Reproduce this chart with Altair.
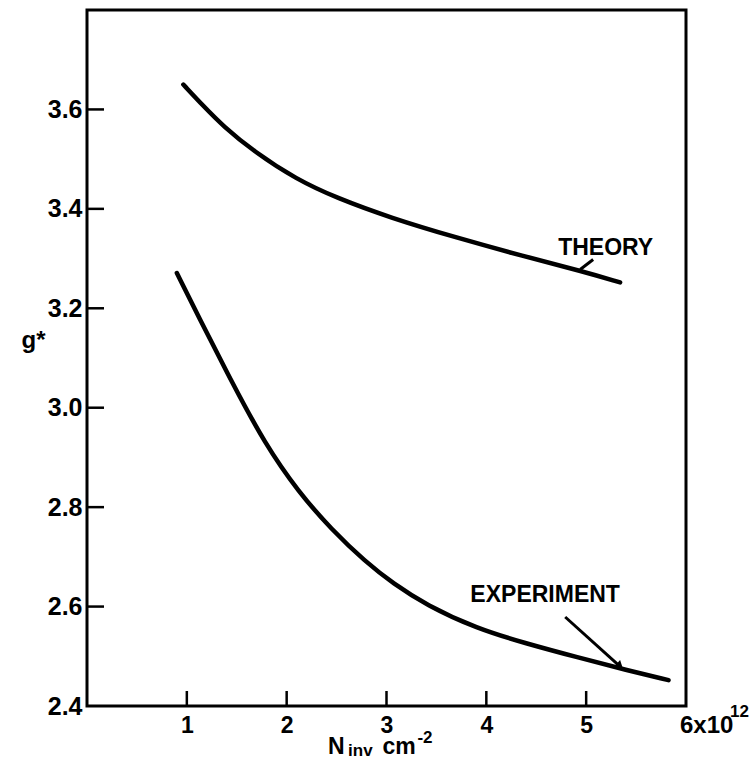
import altair as alt
import pandas as pd

# ---- data ----
theory_x = [0.965, 1.165, 1.366, 1.667, 2.10, 2.50, 3.04, 3.70, 4.37, 4.97, 5.34]
theory_y = [3.650, 3.607, 3.566, 3.516, 3.459, 3.422, 3.382, 3.342, 3.305, 3.274, 3.252]

exp_x = [0.90, 1.115, 1.45, 1.78, 2.12, 2.45, 2.79, 3.07, 3.40, 3.90, 4.41, 4.91, 5.41, 5.825]
exp_y = [3.271, 3.184, 3.052, 2.928, 2.830, 2.755, 2.690, 2.646, 2.603, 2.556, 2.525, 2.498, 2.472, 2.452]

x_ticks = [1, 2, 3, 4, 5]
y_ticks = [2.6, 2.8, 3.0, 3.2, 3.4, 3.6]
y_labels = [2.4, 2.6, 2.8, 3.0, 3.2, 3.4, 3.6]

FONT = "Liberation Sans"

xs = alt.Scale(domain=[0, 6], nice=False, zero=False)
ys = alt.Scale(domain=[2.4, 3.8], nice=False, zero=False)

df_t = pd.DataFrame({"x": theory_x, "y": theory_y})
df_e = pd.DataFrame({"x": exp_x, "y": exp_y})

base_x = alt.X("x:Q", scale=xs,
               axis=alt.Axis(values=x_ticks, format="d", labelFont=FONT, labelFontSize=23,
                             labelFontWeight="bold", labelColor="black", labelPadding=8,
                             labelFlush=False, title=None, ticks=False, domain=False, grid=False))
base_y = alt.Y("y:Q", scale=ys,
               axis=alt.Axis(values=y_labels, format=".1f", labelFont=FONT, labelFontSize=25,
                             labelFontWeight="bold", labelColor="black", labelPadding=5,
                             labelFlush=False, ticks=False, domain=False, grid=False,
                             title="g*", titleAngle=0, titleAlign="center",
                             titleBaseline="alphabetic", titleX=-54, titleY=337,
                             titleFont=FONT, titleFontSize=24, titleFontWeight="bold",
                             titleColor="black"))

theory = alt.Chart(df_t).mark_line(color="black", strokeWidth=4.5, interpolate="basis",
                                   strokeCap="round").encode(x=base_x, y=base_y)
experiment = alt.Chart(df_e).mark_line(color="black", strokeWidth=4.5, interpolate="basis",
                                       strokeCap="round").encode(x="x:Q", y="y:Q")

ytick_layer = alt.Chart(pd.DataFrame({"v": y_ticks})).mark_rule(color="black", strokeWidth=2.5).encode(
    y="v:Q", x=alt.value(0), x2=alt.value(17))
xtick_layer = alt.Chart(pd.DataFrame({"v": x_ticks})).mark_rule(color="black", strokeWidth=2.5).encode(
    x="v:Q", y=alt.value(696), y2=alt.value(681))

# leader lines (data coordinates)
leaders = pd.DataFrame({"x": [4.94, 4.79], "y": [3.278, 2.579], "x2": [5.07, 5.33], "y2": [3.298, 2.481]})
leader_layer = alt.Chart(leaders).mark_rule(color="black", strokeWidth=3).encode(
    x="x:Q", y="y:Q", x2="x2:Q", y2="y2:Q")
arrow_head = alt.Chart(pd.DataFrame({"x": [5.33], "y": [2.483]})).mark_point(
    shape="triangle", filled=True, color="black", size=70, angle=132, opacity=1).encode(x="x:Q", y="y:Q")

def text_layer(x, y, txt, size, align="left", baseline="alphabetic"):
    return alt.Chart(pd.DataFrame({"x": [x], "y": [y], "t": [txt]})).mark_text(
        font=FONT, fontWeight="bold", fontSize=size, align=align, baseline=baseline, color="black"
    ).encode(x="x:Q", y="y:Q", text="t:N")

labels = [
    text_layer(4.72, 3.308, "THEORY", 23),
    text_layer(3.84, 2.609, "EXPERIMENT", 23),
    text_layer(5.94, 2.345, "6x10", 24),
    text_layer(6.44, 2.3775, "12", 17),
    text_layer(2.415, 2.303, "N", 23),
    text_layer(2.615, 2.300, "inv", 17),
    text_layer(2.96, 2.303, "cm", 23),
    text_layer(3.31, 2.325, "-2", 17),
]

chart = alt.layer(theory, experiment, ytick_layer, xtick_layer, leader_layer, arrow_head, *labels).properties(
    width=599, height=696,
    autosize=alt.AutoSizeParams(type="none"),
    padding={"left": 87, "top": 10, "right": 63, "bottom": 53},
).configure(
    background="white",
    view=alt.ViewConfig(stroke="black", strokeWidth=3),
)

chart.save("out.html", embed_options={"renderer": "svg", "actions": False})
